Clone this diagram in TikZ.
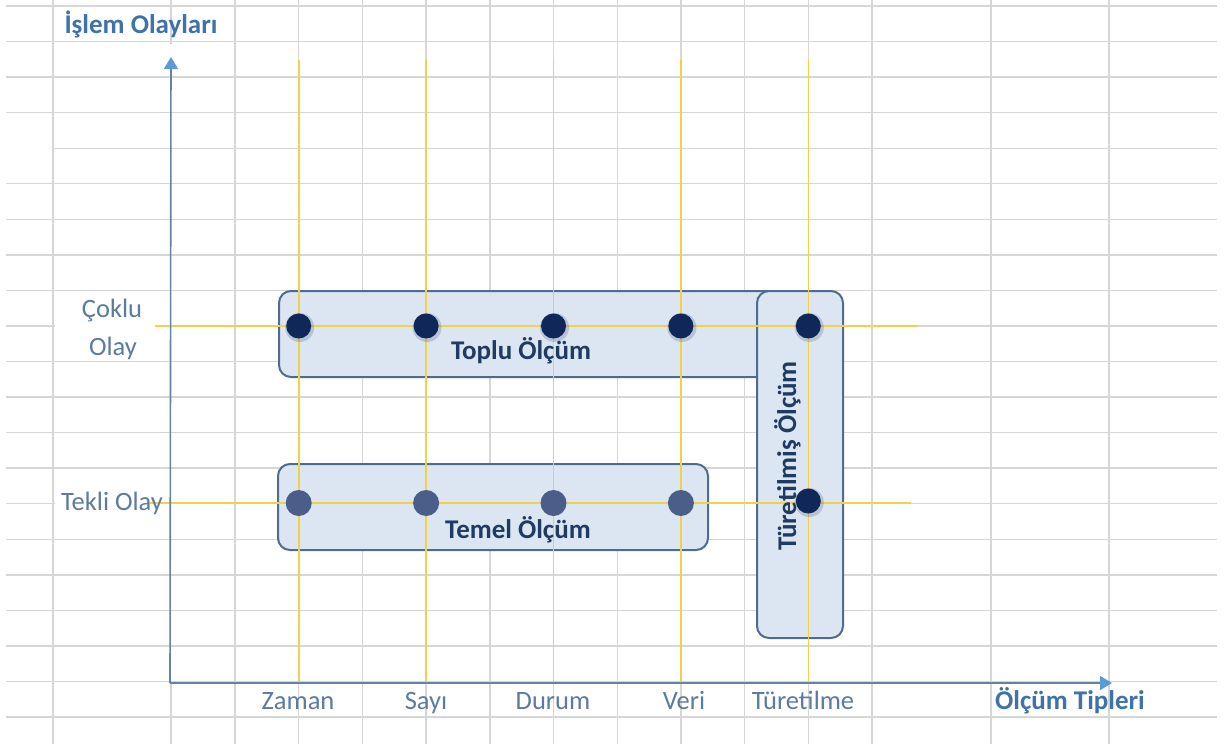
\documentclass[tikz,border=0pt]{standalone}
\usepackage{fontspec}
\setmainfont{Carlito}
\usetikzlibrary{arrows.meta}
\definecolor{gridc}{HTML}{D6D6D6}
\definecolor{yel}{HTML}{F0D148}
\definecolor{axisc}{HTML}{6482A4}
\definecolor{arrowc}{HTML}{5B9BD5}
\definecolor{boxfill}{HTML}{DCE6F2}
\definecolor{boxline}{HTML}{4F6C8E}
\definecolor{navy}{HTML}{10275A}
\definecolor{fadedot}{HTML}{4B5E8A}
\definecolor{lblc}{HTML}{5B7BA0}
\definecolor{titlec}{HTML}{3F72A8}
\definecolor{boxtext}{HTML}{1F3B62}
\begin{document}
\begin{tikzpicture}[x=1pt,y=-1pt,
  gridline/.style={gridc, line width=1.4pt},
  guide/.style={yel, line width=1.6pt},
  axisline/.style={axisc, line width=1.6pt, -{Triangle[width=14pt,length=12pt,color=arrowc]}},
  group/.style={fill=boxfill, draw=boxline, line width=2pt, rounded corners=12pt},
  dot/.style={circle, fill=navy, minimum size=25pt, inner sep=0pt},
  fdot/.style={dot, fill=fadedot, minimum size=26pt},
  halo/.style={circle, fill=navy, opacity=0.18, minimum size=29pt, inner sep=0pt},
  lbl/.style={text=lblc, font=\fontsize{26.5}{37}\selectfont, inner sep=0pt, anchor=base},
  ttl/.style={text=titlec, font=\fontsize{27}{32}\selectfont\bfseries, inner sep=0pt, anchor=base},
  grp/.style={text=boxtext, font=\fontsize{27}{32}\selectfont\bfseries, inner sep=0pt, anchor=base},
]
\useasboundingbox[fill=white] (0,0) rectangle (1230,744);

% spreadsheet grid
\foreach \k in {0,...,20} {
  \pgfmathsetmacro\yy{6+35.55*\k}
  \pgfmathsetmacro\xs{\k==4 ? 53 : 6}
  \draw[gridline] (\xs,\yy) -- (1217,\yy);
}
\foreach \xx in {53,235,298.7,362.4,426.1,489.8,553.5,617.2,680.9,744.6,808.3,872,991,1109} {
  \draw[gridline] (\xx,0) -- (\xx,744);
}
\draw[gridline] (171,0) -- (171,44);
\draw[gridline] (171,683) -- (171,744);
\fill[white] (55,297) rectangle (155,357);
\fill[white] (55,490) rectangle (150,518);

% group boxes
\node[group, minimum width=430pt, minimum height=86pt] (temelbox) at (493,507) {};
\path[group] (800,377) -- (279,377) -- (279,291) -- (800,291);
\node[group, minimum width=86pt, minimum height=347pt] (turbox) at (800,464.5) {};

% yellow guides
\foreach \n/\xx in {za/298.7,sa/426.1,du/553.5,ve/680.9,tu/808.3} {
  \coordinate (\n top) at (\xx,60);
  \coordinate (\n bot) at (\xx,683);
  \draw[guide] (\n top) -- (\n bot);
}
\coordinate (cokstart) at (155,326);
\coordinate (cokend) at (918,326);
\coordinate (tekstart) at (150,503);
\coordinate (tekend) at (911,503);
\draw[guide] (cokstart) -- (cokend);
\draw[guide] (tekstart) -- (tekend);

% axes
\coordinate (origin) at (170,683);
\coordinate (ytop) at (171,57);
\coordinate (xend) at (1112,683);
\draw[axisline] (origin) -- (ytop);
\draw[axisline] (origin) -- (xend);

% dots
\foreach \n/\xx in {za/298.7,sa/426.1,du/553.5,ve/680.9} {
  \node[fdot] (\n tek) at (\xx,503) {};
}
\foreach \n/\xx in {za/298.7,sa/426.1,du/553.5,ve/680.9,tu/808.3} {
  \node[halo] at (\xx+1,327.5) {};
  \node[dot] (\n cok) at (\xx,326) {};
}
\node[halo] at (809.3,502.5) {};
\node[dot] (tutek) at (808.3,501) {};

% box texts
\node[grp] (toplu) at (521,359) {Toplu Ölçüm};
\node[grp] (temel) at (518,538) {Temel Ölçüm};
\node[grp, rotate=90] (turetilmis) at (796,456) {Türetilmiş Ölçüm};

% axis labels
\node[ttl] (islem) at (141,33) {İşlem Olayları};
\node[ttl] (tipleri) at (1070,709) {Ölçüm Tipleri};
\node[lbl] (coklu) at (112,317) {Çoklu};
\node[lbl] (olay) at (113,355) {Olay};
\node[lbl] (tekli) at (112,510) {Tekli Olay};
\node[lbl] (zaman) at (298,709) {Zaman};
\node[lbl] (sayi) at (426,709) {Sayı};
\node[lbl] (durum) at (553,709) {Durum};
\node[lbl] (veri) at (684,709) {Veri};
\node[lbl] (turetilme) at (803,709) {Türetilme};
\end{tikzpicture}
\end{document}
